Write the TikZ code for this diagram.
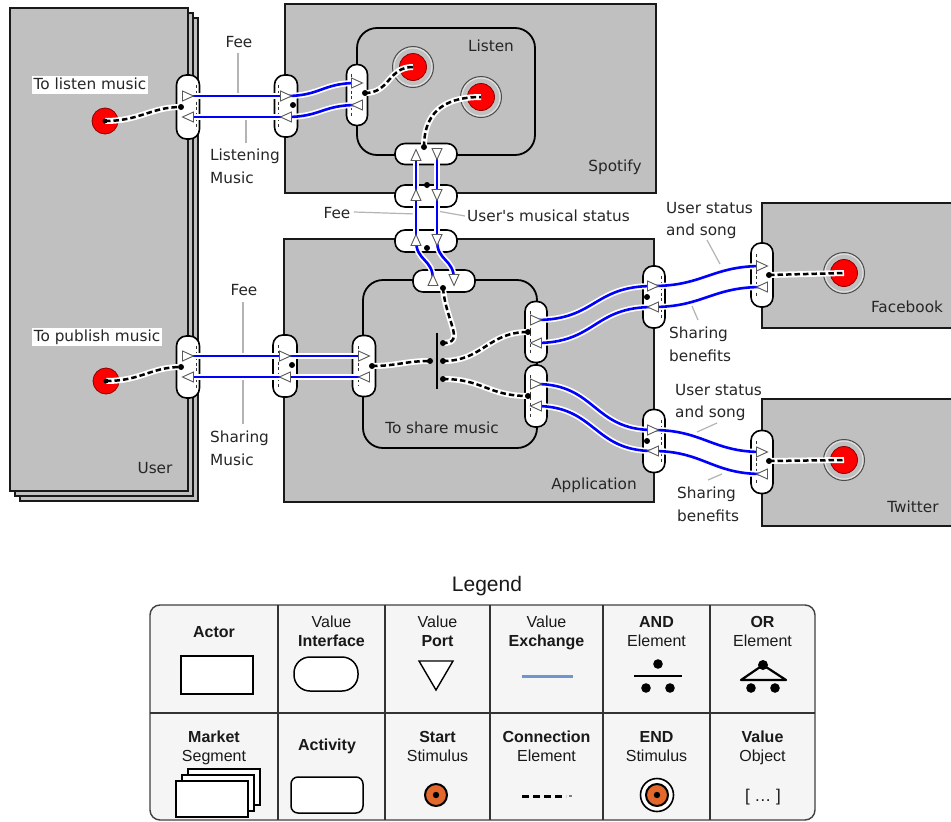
\documentclass[tikz,border=0pt]{standalone}
\usepackage{fontspec}
\newfontfamily\dvfont{DejaVu Sans}
\newfontfamily\libfont{Liberation Sans}
\definecolor{actgray}{HTML}{C0C0C0}
\definecolor{stimred}{HTML}{FF0000}
\definecolor{stimedge}{HTML}{8B0000}
\definecolor{exblue}{HTML}{0000FF}
\definecolor{leadgray}{HTML}{B4B4B4}
\definecolor{legbg}{HTML}{F5F5F5}
\definecolor{legblue}{HTML}{6F95CF}
\definecolor{legorange}{HTML}{E2692B}
\newcommand\drawPortR[1]{\draw[port] (#1) ++(-5.5,-5) -- ++(11,5) -- ++(-11,5) -- cycle;}
\newcommand\drawPortL[1]{\draw[port] (#1) ++(5.5,-5) -- ++(-11,5) -- ++(11,5) -- cycle;}
\newcommand\drawPortU[1]{\draw[port] (#1) ++(-5,5.5) -- ++(5,-11) -- ++(5,11) -- cycle;}
\newcommand\drawPortD[1]{\draw[port] (#1) ++(-5,-5.5) -- ++(5,11) -- ++(5,-11) -- cycle;}
\newcommand\vidot[1]{\fill (#1) circle (3pt);}
\tikzset{
  actorbox/.style={rectangle, fill=actgray, draw=black!90, line width=1.8pt, inner sep=0pt},
  actbox/.style={rectangle, fill=actgray, draw=black, line width=1.8pt, rounded corners=20pt, inner sep=0pt},
  vi/.style={rectangle, fill=white, draw=black, line width=1.6pt, rounded corners=10pt, inner sep=0pt},
  vidash/.style={draw=black!80, line width=0.8pt, dash pattern=on 3pt off 2.5pt},
  port/.style={draw=black!65, fill=white, line width=0.9pt},
  exch/.style={draw=white, line width=6pt, postaction={draw=exblue, line width=2.6pt}},
  conn/.style={draw=white, line width=6pt, postaction={draw=black, line width=2.5pt, dash pattern=on 5.5pt off 3pt}},
  lead/.style={draw=leadgray, line width=1.2pt},
  lbl/.style={font=\dvfont\fontsize{15.3}{22.5}\selectfont, inner sep=0pt, text=black!85},
  startstim/.style={circle, fill=stimred, draw=stimedge, line width=0.8pt, minimum size=26pt, inner sep=0pt},
  endstim/.style={circle, fill=stimred, draw=stimedge, line width=0.8pt, minimum size=27pt, inner sep=0pt},
  ringa/.style={draw=black!70, line width=1pt},
  ringb/.style={draw=white!55!actgray, line width=1pt},
  legbox/.style={rectangle, rounded corners=10pt, fill=legbg, draw=black!75, line width=1.4pt, inner sep=0pt},
  legline/.style={draw=black!80, line width=1.3pt},
  legt/.style={font=\libfont\fontsize{16}{19}\selectfont, inner sep=0pt, anchor=north, align=center, text=black!90},
  legicon/.style={rectangle, fill=white, draw=black, line width=1.5pt, inner sep=0pt},
}
\begin{document}
\begin{tikzpicture}[x=1pt,y=-1pt]
\useasboundingbox (0,0) rectangle (951,822);
\fill[white] (0,0) rectangle (951,822);

% ---------- actors ----------
\node[actorbox, minimum width=178pt, minimum height=483pt] (user3) at (109,259.5) {};
\node[actorbox, minimum width=178pt, minimum height=483pt] (user2) at (104,254.5) {};
\node[actorbox, minimum width=178pt, minimum height=483pt] (user) at (99,249.5) {};
\node[actorbox, minimum width=371pt, minimum height=189pt] (spotify) at (470.5,98.5) {};
\node[actorbox, minimum width=370pt, minimum height=263pt] (app) at (469,370.5) {};
\node[actorbox, minimum width=193pt, minimum height=125pt] (facebook) at (858.5,265.5) {};
\node[actorbox, minimum width=193pt, minimum height=127pt] (twitter) at (858.5,462.5) {};
% ---------- activities ----------
\node[actbox, minimum width=178pt, minimum height=127pt] (listen) at (446,91.5) {};
\node[actbox, minimum width=174pt, minimum height=168pt] (share) at (450,364) {};

% ---------- names ----------
\node[lbl, anchor=base] (tUser) at (155,473.6) {User};
\node[lbl, anchor=base] (tSpotify) at (615,171.6) {Spotify};
\node[lbl, anchor=base] (tListen) at (491,51.6) {Listen};
\node[lbl, anchor=base] (tApp) at (594,489.6) {Application};
\node[lbl, anchor=base] (tShare) at (442,433.6) {To share music};
\node[lbl, anchor=base] (tFacebook) at (907,312.6) {Facebook};
\node[lbl, anchor=base] (tTwitter) at (913,512.6) {Twitter};
\node[lbl, fill=white, text height=11.5pt, text depth=3pt, inner xsep=2pt, inner ysep=1.8pt] (tListenMusic) at (90,85) {To listen music};
\node[lbl, fill=white, text height=11.5pt, text depth=3pt, inner xsep=2pt, inner ysep=1.8pt] (tPublish) at (97,337) {To publish music};

% ---------- value interfaces ----------
\node[vi, minimum width=23pt, minimum height=64pt] (uv1) at (188,107) {};
\node[vi, minimum width=23pt, minimum height=62pt] (uv2) at (188,367) {};
\node[vi, minimum width=23pt, minimum height=62pt] (sv1) at (286,106) {};
\node[vi, minimum width=21pt, minimum height=61pt] (lv1) at (357,95) {};
\node[vi, minimum width=62pt, minimum height=21pt] (lv2) at (426,154) {};
\node[vi, minimum width=62pt, minimum height=22pt] (sv2) at (426,196) {};
\node[vi, minimum width=62pt, minimum height=22pt] (av1) at (426,241) {};
\node[vi, minimum width=62pt, minimum height=22pt] (tv1) at (444,281) {};
\node[vi, minimum width=24pt, minimum height=62pt] (av2) at (285,366) {};
\node[vi, minimum width=23pt, minimum height=61pt] (tv2) at (364,366) {};
\node[vi, minimum width=22pt, minimum height=61pt] (tv3) at (536,332) {};
\node[vi, minimum width=22pt, minimum height=62pt] (tv4) at (536,396) {};
\node[vi, minimum width=22pt, minimum height=62pt] (av3) at (654,297) {};
\node[vi, minimum width=22pt, minimum height=63pt] (av4) at (654,441) {};
\node[vi, minimum width=22pt, minimum height=64pt] (fv) at (762,275) {};
\node[vi, minimum width=22pt, minimum height=63pt] (wv) at (762,462) {};

% dashed seams inside the interfaces
\draw[vidash] (196,85) -- (196,129);
\draw[vidash] (196,346) -- (196,388);
\draw[vidash] (278,85) -- (278,127);
\draw[vidash] (351,74) -- (351,116);
\draw[vidash] (278,345) -- (278,387);
\draw[vidash] (358,346) -- (358,386);
\draw[vidash] (530,311) -- (530,353);
\draw[vidash] (530,375) -- (530,417);
\draw[vidash] (661,276) -- (661,318);
\draw[vidash] (661,420) -- (661,462);
\draw[vidash] (756,254) -- (756,296);
\draw[vidash] (756,441) -- (756,483);

% ---------- port positions ----------
\coordinate (uv1R) at (188,96);  \coordinate (uv1L) at (188,117);
\coordinate (sv1R) at (286,96);  \coordinate (sv1L) at (286,117);
\coordinate (lv1R) at (357,83);  \coordinate (lv1L) at (357,105);
\coordinate (lv2U) at (416,155); \coordinate (lv2D) at (437,154);
\coordinate (sv2U) at (416,195); \coordinate (sv2D) at (437,195);
\coordinate (av1U) at (416,240); \coordinate (av1D) at (437,240);
\coordinate (tv1U) at (433,280); \coordinate (tv1D) at (454,280);
\coordinate (uv2R) at (188,356); \coordinate (uv2L) at (188,377);
\coordinate (av2R) at (285,356); \coordinate (av2L) at (285,377);
\coordinate (tv2R) at (364,356); \coordinate (tv2L) at (364,377);
\coordinate (tv3R) at (536,320); \coordinate (tv3L) at (536,343);
\coordinate (tv4R) at (536,384); \coordinate (tv4L) at (536,406);
\coordinate (av3R) at (653,286); \coordinate (av3L) at (653,307);
\coordinate (av4R) at (653,430); \coordinate (av4L) at (653,451);
\coordinate (fvR) at (762,266);  \coordinate (fvL) at (762,287);
\coordinate (wvR) at (762,452);  \coordinate (wvL) at (762,474);

% connection points of the interfaces
\coordinate (uv1d) at (181,107); \coordinate (uv2d) at (181,367);
\coordinate (sv1d) at (293,105); \coordinate (lv1d) at (365,93);
\coordinate (lv2d) at (424,147); \coordinate (sv2d) at (427,185);
\coordinate (av1d) at (427,248); \coordinate (tv1d) at (443,288);
\coordinate (av2d) at (292,365); \coordinate (tv2d) at (372,366);
\coordinate (tv3d) at (528,332); \coordinate (tv4d) at (528,396);
\coordinate (av3d) at (647,297); \coordinate (av4d) at (647,441);
\coordinate (fvd) at (769,275);  \coordinate (wvd) at (769,461);

% ---------- stimuli ----------
\node[startstim] (us1) at (105,121) {};
\node[startstim] (us2) at (106,381) {};
\node[endstim] (ls1) at (413,67) {};
\draw[ringa] (ls1.center) circle (20.5pt); \draw[ringb] (ls1.center) circle (19pt);
\node[endstim] (ls2) at (481,97) {};
\draw[ringa] (ls2.center) circle (20.5pt); \draw[ringb] (ls2.center) circle (19pt);
\node[endstim] (fs) at (844,273) {};
\draw[ringa] (fs.center) circle (20.5pt); \draw[ringb] (fs.center) circle (19pt);
\node[endstim] (ws) at (844,460) {};
\draw[ringa] (ws.center) circle (20.5pt); \draw[ringb] (ws.center) circle (19pt);

% ---------- AND element ----------
\coordinate (andTop) at (437,333); \coordinate (andBot) at (437,389);
\coordinate (andL) at (430,361);
\coordinate (andR1) at (443,343); \coordinate (andR2) at (443,361); \coordinate (andR3) at (443,379);
\draw[line width=1.5pt] (andTop) -- (andBot);

% ---------- connection elements ----------
\draw[conn] (us1.center) .. controls +(35,0) and +(-30,0) .. (uv1d);
\draw[conn] (us2.center) .. controls +(35,0) and +(-30,0) .. (uv2d);
\draw[conn] (lv1d) .. controls +(25,0) and +(-25,0) .. (ls1.center);
\draw[conn] (lv2d) .. controls +(0,-40) and +(-30,0) .. (ls2.center);
\draw[conn] (tv1d) .. controls (446,322) and (466,343) .. (andR1);
\draw[conn] (tv2d) .. controls +(25,0) and +(-25,0) .. (andL);
\draw[conn] (andR2) .. controls +(40,0) and +(-40,0) .. (tv3d);
\draw[conn] (andR3) .. controls +(40,0) and +(-40,0) .. (tv4d);
\draw[conn] (fvd) -- (fs.center);
\draw[conn] (wvd) -- (ws.center);

% ---------- leader lines ----------
\coordinate (ldA1) at (238,53);  \coordinate (ldA2) at (238,96);
\coordinate (ldB1) at (246,117); \coordinate (ldB2) at (246,143);
\coordinate (ldC1) at (243,302); \coordinate (ldC2) at (243,356);
\coordinate (ldD1) at (243,377); \coordinate (ldD2) at (243,424);
\coordinate (ldE1) at (354,212); \coordinate (ldE2) at (416,214);
\coordinate (ldF1) at (437,211); \coordinate (ldF2) at (465,216);
\coordinate (ldG1) at (707,240); \coordinate (ldG2) at (720,264);
\coordinate (ldH1) at (692,306); \coordinate (ldH2) at (698,320);
\coordinate (ldI1) at (717,423); \coordinate (ldI2) at (697,432);
\coordinate (ldJ1) at (708,480); \coordinate (ldJ2) at (722,474);
\draw[lead] (ldA1) -- (ldA2);
\draw[lead] (ldB1) -- (ldB2);
\draw[lead] (ldC1) -- (ldC2);
\draw[lead] (ldD1) -- (ldD2);
\draw[lead] (ldE1) -- (ldE2);
\draw[lead] (ldF1) -- (ldF2);
\draw[lead] (ldG1) -- (ldG2);
\draw[lead] (ldH1) -- (ldH2);
\draw[lead] (ldI1) -- (ldI2);
\draw[lead] (ldJ1) -- (ldJ2);

% ---------- value exchanges ----------
\draw[exch] (uv1R) -- (sv1R);
\draw[exch] (sv1L) -- (uv1L);
\draw[exch] (sv1R) .. controls +(35,0) and +(-35,0) .. (lv1R);
\draw[exch] (lv1L) .. controls +(-35,0) and +(35,0) .. (sv1L);
\draw[exch] (sv2U) -- (lv2U);
\draw[exch] (av1U) -- (sv2U);
\draw[exch] (tv1U) .. controls +(0,-22) and +(0,22) .. (av1U);
\draw[exch] (lv2D) -- (sv2D);
\draw[exch] (sv2D) -- (av1D);
\draw[exch] (av1D) .. controls +(0,22) and +(0,-22) .. (tv1D);
\draw[exch] (uv2R) -- (av2R);
\draw[exch] (av2L) -- (uv2L);
\draw[exch] (av2R) -- (tv2R);
\draw[exch] (tv2L) -- (av2L);
\draw[exch] (tv3R) .. controls +(60,0) and +(-60,0) .. (av3R);
\draw[exch] (av3L) .. controls +(-60,0) and +(60,0) .. (tv3L);
\draw[exch] (tv4R) .. controls +(60,0) and +(-60,0) .. (av4R);
\draw[exch] (av4L) .. controls +(-60,0) and +(60,0) .. (tv4L);
\draw[exch] (av3R) .. controls +(50,0) and +(-50,0) .. (fvR);
\draw[exch] (fvL) .. controls +(-50,0) and +(50,0) .. (av3L);
\draw[exch] (av4R) .. controls +(50,0) and +(-50,0) .. (wvR);
\draw[exch] (wvL) .. controls +(-50,0) and +(50,0) .. (av4L);

% ---------- ports ----------
\drawPortR{uv1R} \drawPortL{uv1L}
\drawPortR{sv1R} \drawPortL{sv1L}
\drawPortR{lv1R} \drawPortL{lv1L}
\drawPortU{lv2U} \drawPortD{lv2D}
\drawPortU{sv2U} \drawPortD{sv2D}
\drawPortU{av1U} \drawPortD{av1D}
\drawPortU{tv1U} \drawPortD{tv1D}
\drawPortR{uv2R} \drawPortL{uv2L}
\drawPortR{av2R} \drawPortL{av2L}
\drawPortR{tv2R} \drawPortL{tv2L}
\drawPortR{tv3R} \drawPortL{tv3L}
\drawPortR{tv4R} \drawPortL{tv4L}
\drawPortR{av3R} \drawPortL{av3L}
\drawPortR{av4R} \drawPortL{av4L}
\drawPortR{fvR}  \drawPortL{fvL}
\drawPortR{wvR}  \drawPortL{wvL}

% ---------- dots ----------
\vidot{uv1d} \vidot{uv2d} \vidot{sv1d} \vidot{lv1d} \vidot{lv2d} \vidot{sv2d}
\vidot{av1d} \vidot{tv1d} \vidot{av2d} \vidot{tv2d} \vidot{tv3d} \vidot{tv4d}
\vidot{av3d} \vidot{av4d} \vidot{fvd} \vidot{wvd}
\vidot{andL} \vidot{andR1} \vidot{andR2} \vidot{andR3}
\fill (us1.center) circle (2.5pt);
\fill (us2.center) circle (2.5pt);

% ---------- exchange labels ----------
\node[lbl, anchor=base] (lFee1) at (239,47.6) {Fee};
\node[lbl, anchor=north west, align=left] (lListening) at (210,149) {Listening\\Music};
\node[lbl, anchor=base] (lFee2) at (244,295.6) {Fee};
\node[lbl, anchor=north west, align=left] (lSharing) at (210,431) {Sharing\\Music};
\node[lbl, anchor=base] (lFee3) at (337,218.6) {Fee};
\node[lbl, anchor=base west] (lStatus) at (467,221.6) {User's musical status};
\node[lbl, anchor=north west, align=left] (lFbUp) at (666,202) {User status\\and song};
\node[lbl, anchor=north west, align=left] (lFbDown) at (669,327) {Sharing\\benefits};
\node[lbl, anchor=north west, align=left] (lTwUp) at (675,384) {User status\\and song};
\node[lbl, anchor=north west, align=left] (lTwDown) at (677,487) {Sharing\\benefits};

% ================= LEGEND =================
\node[font=\libfont\fontsize{21}{25}\selectfont, inner sep=0pt, anchor=base, text=black!90] (legTitle) at (487,591.5) {Legend};
\node[legbox, minimum width=665pt, minimum height=215pt] (legtab) at (482.5,712.5) {};
\draw[legline] (150,713) -- (815,713);
\draw[legline] (278,605) -- (278,820);
\draw[legline] (385,605) -- (385,820);
\draw[legline] (490,605) -- (490,820);
\draw[legline] (603,605) -- (603,820);
\draw[legline] (710,605) -- (710,820);

\node[legt] (lgT1) at (214,626) {\bfseries Actor};
\node[legt] (lgT2) at (331.5,616) {Value\\\bfseries Interface};
\node[legt] (lgT3) at (437.5,616) {Value\\\bfseries Port};
\node[legt] (lgT4) at (546.5,616) {Value\\\bfseries Exchange};
\node[legt] (lgT5) at (656.5,616) {\bfseries AND\\Element};
\node[legt] (lgT6) at (762.5,616) {\bfseries OR\\Element};
\node[legt] (lgT7) at (214,731) {\bfseries Market\\Segment};
\node[legt] (lgT8) at (327,739) {\bfseries Activity};
\node[legt] (lgT9) at (437.5,731) {\bfseries Start\\Stimulus};
\node[legt] (lgT10) at (546.5,731) {\bfseries Connection\\Element};
\node[legt] (lgT11) at (656.5,731) {\bfseries END\\Stimulus};
\node[legt] (lgT12) at (762.5,731) {\bfseries Value\\Object};

% icons row 1
\node[legicon, minimum width=72pt, minimum height=38pt] (lgActor) at (217,675) {};
\node[legicon, rounded corners=16pt, minimum width=64pt, minimum height=34pt] (lgVI) at (326,674) {};
\draw[line width=1.4pt, fill=white, line join=miter] (419,661) -- (453,661) -- (436,690) -- cycle;
\draw[legblue, line width=3pt] (522,676) -- (573,676);
\fill (658,664) circle (4.8pt);
\draw[line width=2.2pt] (634,676) -- (682,676);
\fill (646,688) circle (4.8pt); \fill (670,688) circle (4.8pt);
\draw[line width=2.2pt, line join=round] (741,680) -- (763,665) -- (786,680) -- cycle;
\fill (763,665) circle (5pt);
\fill (751,688) circle (4.8pt); \fill (775,688) circle (4.8pt);

% icons row 2
\node[legicon, minimum width=72pt, minimum height=36pt] (lgMS3) at (224,787) {};
\node[legicon, minimum width=72pt, minimum height=36pt] (lgMS2) at (218,793) {};
\node[legicon, minimum width=72pt, minimum height=36pt] (lgMS1) at (212,799) {};
\node[legicon, rounded corners=7pt, minimum width=72pt, minimum height=36pt] (lgAct) at (327,795) {};
\node[circle, fill=legorange, draw=black, line width=2pt, minimum size=22pt, inner sep=0pt] (lgStart) at (436,795) {};
\fill (lgStart.center) circle (3.2pt);
\draw[line width=3pt, dash pattern=on 7pt off 4pt] (522,796) -- (566,796);
\draw[black!50, line width=1.2pt] (569,796) -- (571.5,796);
\node[circle, fill=white, draw=black, line width=1.6pt, minimum size=33pt, inner sep=0pt] (lgEndRing) at (657,795) {};
\node[circle, fill=legorange, draw=black, line width=2pt, minimum size=22pt, inner sep=0pt] (lgEnd) at (657,795) {};
\fill (lgEnd.center) circle (3.2pt);
\node[font=\libfont\fontsize{17}{20}\selectfont, inner sep=0pt, text=black!90] (lgVO) at (763,797) {[ … ]};
\end{tikzpicture}
\end{document}
